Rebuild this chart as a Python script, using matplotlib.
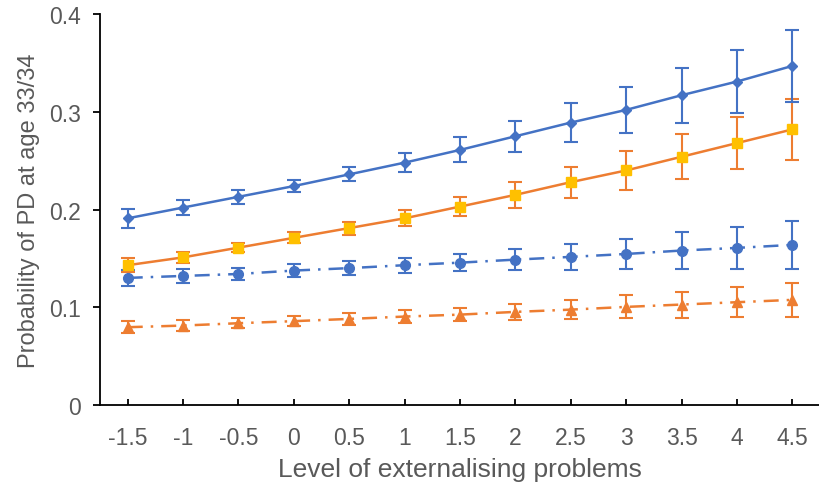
import numpy as np
import matplotlib.pyplot as plt

plt.rcParams['font.family'] = ['Liberation Sans', 'DejaVu Sans']

# DATA

x_labels = ['-1.5', '-1', '-0.5', '0', '0.5', '1', '1.5', '2', '2.5', '3', '3.5', '4', '4.5']

blue_solid = [0.191, 0.202, 0.213, 0.224, 0.236, 0.248, 0.261, 0.275, 0.289, 0.302, 0.317, 0.331, 0.347]
blue_solid_err = [0.010, 0.008, 0.007, 0.0065, 0.0073, 0.0096, 0.0128, 0.016, 0.020, 0.0237, 0.028, 0.032, 0.037]

orange_solid = [0.143, 0.151, 0.161, 0.171, 0.181, 0.191, 0.203, 0.215, 0.228, 0.240, 0.254, 0.268, 0.282]
orange_solid_err = [0.0072, 0.006, 0.005, 0.0055, 0.0066, 0.008, 0.010, 0.013, 0.016, 0.0198, 0.023, 0.027, 0.0315]

blue_dash = [0.130, 0.132, 0.134, 0.1375, 0.140, 0.143, 0.1456, 0.1487, 0.1515, 0.1545, 0.158, 0.1607, 0.1638]
blue_dash_err = [0.008, 0.007, 0.0066, 0.0068, 0.0068, 0.0077, 0.009, 0.011, 0.0133, 0.0158, 0.0186, 0.0213, 0.0243]

orange_dash = [0.0795, 0.0812, 0.0836, 0.0857, 0.088, 0.0904, 0.0924, 0.0952, 0.0975, 0.1003, 0.1027, 0.1051, 0.1075]
orange_dash_err = [0.006, 0.0055, 0.005, 0.005, 0.0058, 0.0063, 0.007, 0.0084, 0.0099, 0.0118, 0.0133, 0.0152, 0.0175]

# PLOT

blue = '#4472C4'
orange = '#ED7D31'
yellow = '#FFC000'
grey = '#595959'

fig = plt.figure(figsize=(8.2, 4.89), dpi=100)
ax = fig.add_axes([0.122, 0.17, 0.878, 0.799])

x = np.arange(len(x_labels))
dashdot = (0, (6, 3.2, 1, 3.2))

ax.errorbar(x, orange_dash, yerr=orange_dash_err, color=orange, lw=1.8, ls=dashdot,
            marker='^', ms=7, ecolor=orange, elinewidth=1.5, capsize=5, capthick=1.5)
ax.errorbar(x, blue_dash, yerr=blue_dash_err, color=blue, lw=1.8, ls=dashdot,
            marker='o', ms=7, ecolor=blue, elinewidth=1.5, capsize=5, capthick=1.5)
ax.errorbar(x, orange_solid, yerr=orange_solid_err, color=orange, lw=1.8, ls='-',
            marker='s', ms=7, mfc=yellow, mec=yellow, ecolor=orange, elinewidth=1.5,
            capsize=5, capthick=1.5)
ax.errorbar(x, blue_solid, yerr=blue_solid_err, color=blue, lw=1.8, ls='-',
            marker='D', ms=5.5, ecolor=blue, elinewidth=1.5, capsize=5, capthick=1.5)

ax.set_xlim(-0.5, len(x_labels) - 0.5)
ax.set_ylim(0, 0.4)
ax.set_xticks(x)
ax.set_xticklabels(x_labels)
ax.set_yticks([0, 0.1, 0.2, 0.3, 0.4])
ax.set_yticklabels(['0', '0.1', '0.2', '0.3', '0.4'])

ax.spines['top'].set_visible(False)
ax.spines['right'].set_visible(False)
ax.spines['left'].set_linewidth(1.3)
ax.spines['bottom'].set_linewidth(1.3)

ax.tick_params(axis='x', direction='in', length=4, width=1.3, labelsize=16.5, labelcolor=grey, pad=15)
ax.tick_params(axis='y', direction='out', length=5, width=1.3, labelsize=16.5, labelcolor=grey, pad=9)

ax.set_xlabel('Level of externalising problems', fontsize=19, color=grey, labelpad=6)
ax.set_ylabel('Probability of PD at age 33/34', fontsize=17, color=grey, labelpad=6)

plt.savefig('out.png', dpi=100)
